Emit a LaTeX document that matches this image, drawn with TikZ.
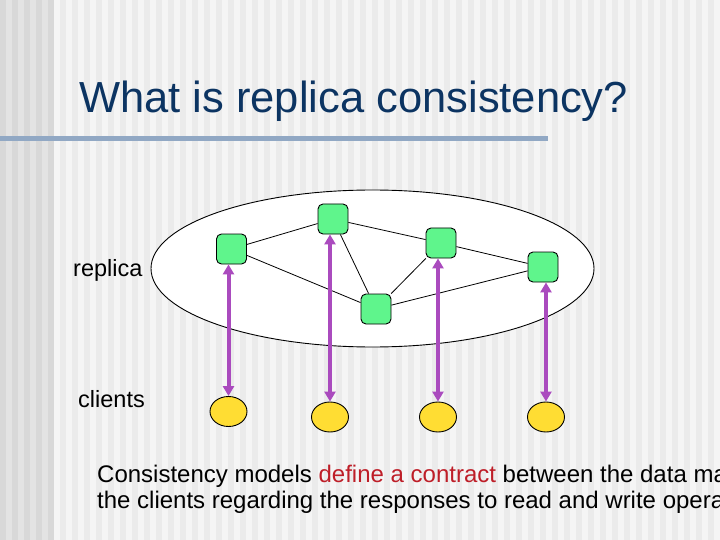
\documentclass[tikz,border=0pt]{standalone}
\usepackage{fontspec}
\setmainfont{Liberation Sans}
\usetikzlibrary{arrows.meta}
\definecolor{bgA}{RGB}{245,245,245}
\definecolor{bgB}{RGB}{235,235,235}
\definecolor{bgC}{RGB}{227,227,227}
\definecolor{bgD}{RGB}{216,216,216}
\definecolor{titleblue}{RGB}{12,52,98}
\definecolor{rulecol}{RGB}{145,168,196}
\definecolor{replgreen}{RGB}{95,245,140}
\definecolor{clientyel}{RGB}{255,221,51}
\definecolor{arrpurple}{RGB}{170,75,190}
\definecolor{hired}{RGB}{190,30,40}
\tikzset{
  replnode/.style={draw=black, line width=0.9pt, fill=replgreen, rounded corners=5pt,
    minimum width=30pt, minimum height=30pt, inner sep=0pt},
  clientnode/.style={draw=black, line width=0.9pt, fill=clientyel, ellipse,
    minimum width=37pt, minimum height=30pt, inner sep=0pt},
  linkline/.style={draw=black, line width=0.8pt},
  access/.style={draw=arrpurple, line width=4pt,
    {Triangle[width=11pt,length=10pt]}-{Triangle[width=11pt,length=10pt]}},
  lbl/.style={inner sep=0pt, anchor=base west}
}
\usetikzlibrary{shapes.geometric}
\begin{document}
\begin{tikzpicture}[x=1pt,y=-1pt]
\useasboundingbox (0,0) rectangle (720,540);
\clip (0,0) rectangle (720,540);
% background stripes
\fill[bgB] (0,0) rectangle (720,540);
\foreach \i in {0,...,55} {
  \fill[bgA] (54+12*\i,0) rectangle (60+12*\i,540);
}
\fill[bgC] (0,0) rectangle (54,540);
\foreach \i in {0,...,4} {
  \fill[bgD] (12*\i,0) rectangle (6+12*\i,540);
}
% title
\node[lbl, text=titleblue, font=\fontsize{43.5}{50}\selectfont] (title) at (79,113) {What is replica consistency?};
\draw[rulecol, line width=5pt] (0,138.5) -- (548,138.5);
% ellipse
\draw[fill=white, line width=0.9pt] (372.5,268.5) ellipse [x radius=221.5, y radius=78.5];
% replicas
\node[replnode] (rA) at (231.5,249) {};
\node[replnode] (rB) at (333,219) {};
\node[replnode] (rC) at (376,309) {};
\node[replnode] (rD) at (441,243) {};
\node[replnode] (rE) at (543,267) {};
\draw[linkline] (rA) -- (rB);
\draw[linkline] (rA) -- (rC);
\draw[linkline] (rB) -- (rC);
\draw[linkline] (rB) -- (rD);
\draw[linkline] (rC) -- (rD);
\draw[linkline] (rC) -- (rE);
\draw[linkline] (rD) -- (rE);
% clients
\node[clientnode] (c1) at (228.5,411.5) {};
\node[clientnode] (c2) at (330,417) {};
\node[clientnode] (c3) at (438,417) {};
\node[clientnode] (c4) at (546,417) {};
\draw[access] (c1.north) -- (c1.north |- rA.south);
\draw[access] (c2.north) -- (c2.north |- rB.south);
\draw[access] (c3.north) -- (c3.north |- rD.south);
\draw[access] (c4.north) -- (c4.north |- rE.south);
% labels
\node[lbl, font=\fontsize{23.5}{28}\selectfont] (lrep) at (73,276) {replica};
\node[lbl, font=\fontsize{23.5}{28}\selectfont] (lcli) at (78,407) {clients};
\node[lbl, font=\fontsize{24}{28}\selectfont] (txt1) at (97,482) {Consistency models \textcolor{hired}{define a contract} between the data ma};
\node[lbl, font=\fontsize{24}{28}\selectfont] (txt2) at (97,508) {the clients regarding the responses to read and write opera};
\end{tikzpicture}
\end{document}
